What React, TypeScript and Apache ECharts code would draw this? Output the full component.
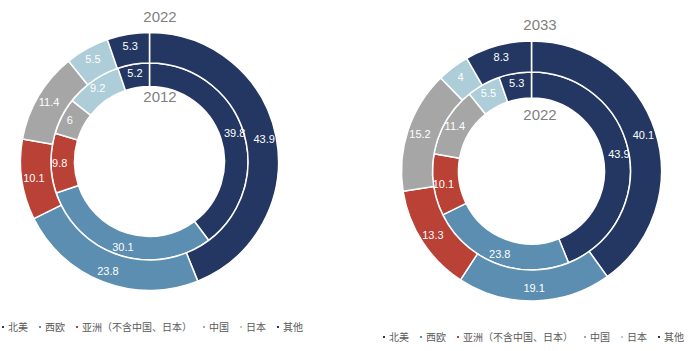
import React, { useEffect, useRef } from "react";
import * as echarts from "echarts";

const categories = ["北美", "西欧", "亚洲（不含中国、日本）", "中国", "日本", "其他"];
const colors = ["#243763", "#5b8eb0", "#b94135", "#a6a6a6", "#adcdd9", "#243763"];
const left2012 = [39.8, 30.1, 9.8, 6, 9.2, 5.2];
const left2022 = [43.9, 23.8, 10.1, 11.4, 5.5, 5.3];
const right2022 = [43.9, 23.8, 10.1, 11.4, 5.5, 5.3];
const right2033 = [40.1, 19.1, 13.3, 15.2, 4, 8.3];
const titles = ["2022", "2012", "2033", "2022"];

const FONT = '"Liberation Sans", Arial, "Noto Sans CJK SC", sans-serif';

function mkData(vals: number[]) {
  return vals.map((v, i) => ({
    name: categories[i],
    value: v,
    itemStyle: { color: colors[i] },
  }));
}

function pie(vals: number[], center: [number, number], radius: [number, number]) {
  return {
    type: "pie",
    center,
    radius,
    startAngle: 90,
    clockwise: true,
    silent: true,
    data: mkData(vals),
    itemStyle: { borderColor: "#ffffff", borderWidth: 1.5 },
    label: {
      show: true,
      position: "inside",
      formatter: "{c}",
      color: "#ffffff",
      fontSize: 11,
      fontFamily: FONT,
    },
    labelLine: { show: false },
    emphasis: { disabled: true },
  };
}

function legend(left: number, top: number) {
  return {
    data: categories.map((c, i) => ({ name: c, itemStyle: { color: colors[i] } })),
    left,
    top,
    padding: 0,
    orient: "horizontal",
    width: 340,
    icon: "rect",
    itemWidth: 4,
    itemHeight: 4,
    itemGap: 9,
    textStyle: { fontSize: 10, color: "#595959", fontFamily: FONT, padding: [0, 0, 0, -2] },
    selectedMode: false,
  };
}

export default function App() {
  const ref = useRef<HTMLDivElement>(null);
  useEffect(() => {
    if (!ref.current) return;
    const chart = echarts.init(ref.current, undefined, { renderer: "svg" });
    const titleStyle = { fontSize: 15, color: "#7f7f7f", fontFamily: FONT, fontWeight: "normal" };
    chart.setOption({
      animation: false,
      backgroundColor: "#ffffff",
      title: [
        { text: titles[0], left: 155, top: 4, textAlign: "center", textStyle: titleStyle },
        { text: titles[1], left: 155, top: 84, textAlign: "center", textStyle: titleStyle },
        { text: titles[2], left: 535, top: 12, textAlign: "center", textStyle: titleStyle },
        { text: titles[3], left: 535, top: 102, textAlign: "center", textStyle: titleStyle },
      ],
      legend: [legend(0, 322), legend(381, 332)],
      series: [
        pie(left2012, [149.5, 161.5], [75, 98.5]),
        pie(left2022, [149.5, 161.5], [98.5, 129]),
        pie(right2022, [531.5, 171], [73, 99]),
        pie(right2033, [531.5, 171], [99, 130]),
      ],
    });
    return () => chart.dispose();
  }, []);
  return (
    <div
      ref={ref}
      style={{ width: 695, height: 351, position: "absolute", left: 0, top: 0 }}
    />
  );
}
